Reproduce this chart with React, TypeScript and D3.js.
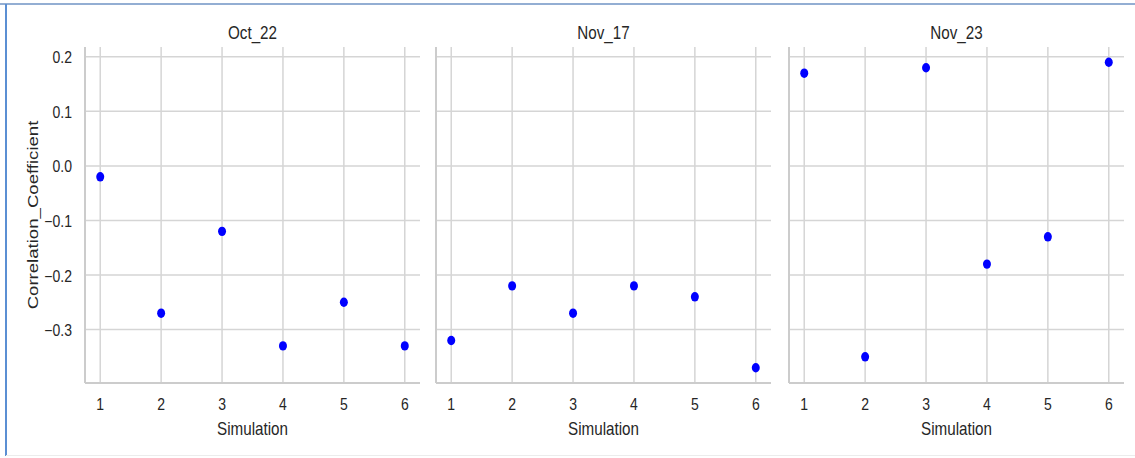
import React, { useEffect, useRef } from 'react';
import * as d3 from 'd3';

// facet titles and values
const panels = ['Oct_22', 'Nov_17', 'Nov_23'];
const simulations = [1, 2, 3, 4, 5, 6];
const oct22 = [-0.02, -0.27, -0.12, -0.33, -0.25, -0.33];
const nov17 = [-0.32, -0.22, -0.27, -0.22, -0.24, -0.37];
const nov23 = [0.17, -0.35, 0.18, -0.18, -0.13, 0.19];
const yTicks = [0.2, 0.1, 0.0, -0.1, -0.2, -0.3];

const seriesList = [oct22, nov17, nov23];

const W = 1135;
const H = 458;
const FONT = '"Liberation Sans", Arial, sans-serif';
const INK = '#262626';

export default function App() {
  const ref = useRef<SVGSVGElement>(null);

  useEffect(() => {
    const svg = d3.select(ref.current);
    svg.selectAll('*').remove();

    // the reference is a slightly stretched screenshot, so text gets a y scale
    const label = (x: number, y: number, txt: string, size: number, sy: number, anchor = 'middle') =>
      svg.append('text')
        .attr('transform', `translate(${x},${y}) scale(1,${sy})`)
        .attr('text-anchor', anchor)
        .style('font-family', FONT).style('font-size', size + 'px').attr('fill', INK)
        .text(txt);

    // screenshot frame
    svg.append('line').attr('x1', 0).attr('x2', W).attr('y1', 4).attr('y2', 4)
      .attr('stroke', '#6f93c4').attr('stroke-width', 1.5);
    svg.append('line').attr('x1', 6).attr('x2', 6).attr('y1', 4).attr('y2', 456)
      .attr('stroke', '#5b8fd3').attr('stroke-width', 2);
    svg.append('line').attr('x1', 6).attr('x2', W).attr('y1', 455.5).attr('y2', 455.5)
      .attr('stroke', '#ececec').attr('stroke-width', 1);

    const top = 47, bottom = 383;
    const lefts = [85, 436, 789];
    const pw = 335;

    // shared y scale, seaborn-like 5% padding
    const allVals = seriesList.flat();
    const lo = d3.min(allVals)!, hi = d3.max(allVals)!;
    const pad = (hi - lo) * 0.05;
    const y = d3.scaleLinear().domain([lo - pad, hi + pad]).range([bottom, top]);

    panels.forEach((name, i) => {
      const x0 = lefts[i];
      const x = d3.scaleLinear().domain([0.75, 6.25]).range([x0, x0 + pw]);
      const g = svg.append('g');

      // grid
      g.selectAll('.hg').data(yTicks).enter().append('line')
        .attr('x1', x0).attr('x2', x0 + pw)
        .attr('y1', d => y(d)).attr('y2', d => y(d))
        .attr('stroke', '#d5d5d5').attr('stroke-width', 1.5);
      g.selectAll('.vg').data(simulations).enter().append('line')
        .attr('x1', d => x(d)).attr('x2', d => x(d))
        .attr('y1', top).attr('y2', bottom)
        .attr('stroke', '#d5d5d5').attr('stroke-width', 1.5);

      // spines
      g.append('line').attr('x1', x0).attr('x2', x0).attr('y1', top).attr('y2', bottom)
        .attr('stroke', '#cccccc').attr('stroke-width', 2);
      g.append('line').attr('x1', x0).attr('x2', x0 + pw).attr('y1', bottom).attr('y2', bottom)
        .attr('stroke', '#cccccc').attr('stroke-width', 2);

      // x tick labels
      simulations.forEach(s => label(x(s), 410, String(s), 14, 1.12));

      label(x0 + pw / 2, 435, 'Simulation', 15.2, 1.17);

      // facet title
      label(x0 + pw / 2, 39, name, 15.2, 1.17);

      // points
      g.selectAll('.pt').data(seriesList[i]).enter().append('ellipse')
        .attr('cx', (d, j) => x(simulations[j]))
        .attr('cy', d => y(d))
        .attr('rx', 4).attr('ry', 4.7)
        .attr('fill', '#0000ff');
    });

    // y tick labels on the first panel
    yTicks.forEach(t =>
      label(72, y(t) + 6.5, d3.format('.1f')(t).replace('-', '\u2212'), 14, 1.12, 'end'));

    svg.append('text')
      .attr('transform', `translate(38,215) rotate(-90) scale(1.2,1)`)
      .attr('text-anchor', 'middle')
      .style('font-family', FONT).style('font-size', '15.5px').attr('fill', INK)
      .text('Correlation_Coefficient');
  }, []);

  return (
    <svg ref={ref} width={W} height={H}
      style={{ position: 'absolute', left: 0, top: 0, background: '#fff' }} />
  );
}
